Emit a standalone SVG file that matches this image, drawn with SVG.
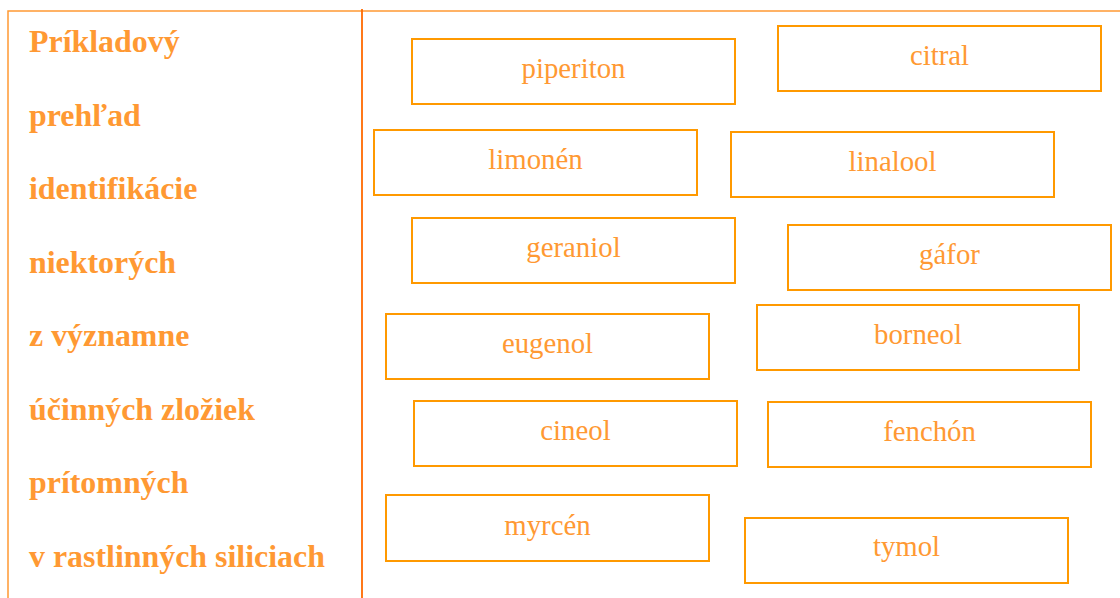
<svg xmlns="http://www.w3.org/2000/svg" width="1120" height="598" viewBox="0 0 1120 598">
<style>
.frame{stroke:#FF9933;stroke-width:1.5;fill:none}
.div{stroke:#FF6A00;stroke-width:1.8;fill:none}
.box{fill:#FFFFFF;stroke:#FF9900;stroke-width:2}
.lbl{font-family:"Liberation Serif","Times New Roman",serif;font-size:28.8px;fill:#FF9933;text-anchor:middle}
.ttl{font-family:"Liberation Serif","Times New Roman",serif;font-size:31.9px;font-weight:bold;fill:#FF9933}
</style>
<rect width="1120" height="598" fill="#FFFFFF"/>
<g id="frame">
<path class="frame" d="M8,598 V11 H1120"/>
<path class="div" d="M362,9 V598"/>
</g>
<g id="title">
<text class="ttl" x="29" y="52">Príkladový</text>
<text class="ttl" x="29" y="125.5">prehľad</text>
<text class="ttl" x="29" y="199">identifikácie</text>
<text class="ttl" x="29" y="272.5">niektorých</text>
<text class="ttl" x="29" y="346">z významne</text>
<text class="ttl" x="29" y="420">účinných zložiek</text>
<text class="ttl" x="29" y="493">prítomných</text>
<text class="ttl" x="29" y="567">v rastlinných siliciach</text>
</g>
<g id="connectors"></g>
<g id="piperiton"><rect class="box" x="412" y="39" width="323" height="65"/><text class="lbl" x="573.5" y="78">piperiton</text></g>
<g id="citral"><rect class="box" x="778" y="26" width="323" height="65"/><text class="lbl" x="939.5" y="65">citral</text></g>
<g id="limonen"><rect class="box" x="374" y="130" width="323" height="65"/><text class="lbl" x="535.5" y="169">limonén</text></g>
<g id="linalool"><rect class="box" x="731" y="132" width="323" height="65"/><text class="lbl" x="892.5" y="171">linalool</text></g>
<g id="geraniol"><rect class="box" x="412" y="218" width="323" height="65"/><text class="lbl" x="573.5" y="257">geraniol</text></g>
<g id="gafor"><rect class="box" x="788" y="225" width="323" height="65"/><text class="lbl" x="949.5" y="264">gáfor</text></g>
<g id="eugenol"><rect class="box" x="386" y="314" width="323" height="65"/><text class="lbl" x="547.5" y="353">eugenol</text></g>
<g id="borneol"><rect class="box" x="757" y="305" width="322" height="65"/><text class="lbl" x="918" y="344">borneol</text></g>
<g id="cineol"><rect class="box" x="414" y="401" width="323" height="65"/><text class="lbl" x="575.5" y="440">cineol</text></g>
<g id="fenchon"><rect class="box" x="768" y="402" width="323" height="65"/><text class="lbl" x="929.5" y="441">fenchón</text></g>
<g id="myrcen"><rect class="box" x="386" y="495" width="323" height="66"/><text class="lbl" x="547.5" y="535">myrcén</text></g>
<g id="tymol"><rect class="box" x="745" y="518" width="323" height="65"/><text class="lbl" x="906.5" y="556">tymol</text></g>
</svg>
